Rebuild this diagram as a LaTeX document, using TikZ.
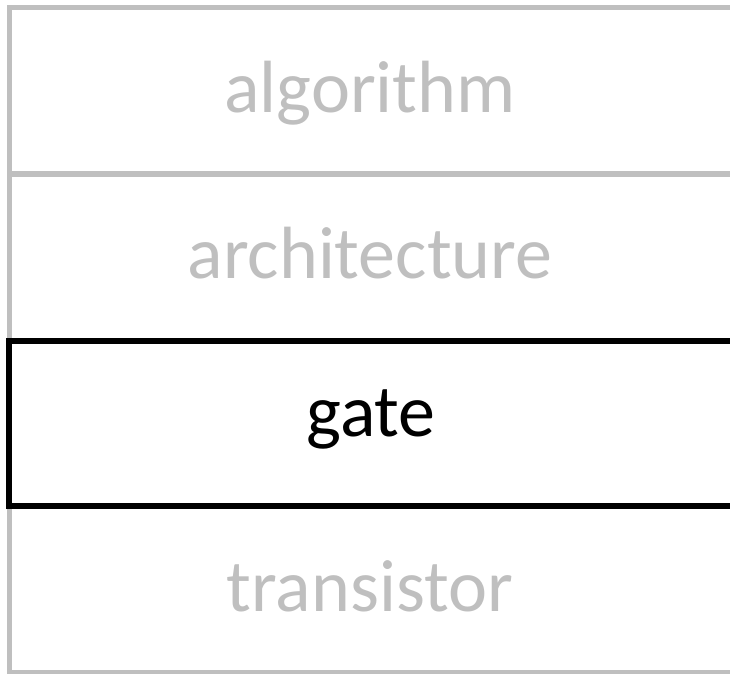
\documentclass[tikz,border=0pt]{standalone}
\usepackage{fontspec}
\setmainfont{Carlito}
\definecolor{layergray}{HTML}{BFBFBF}
\begin{document}
\begin{tikzpicture}[x=1pt,y=-1pt,
  layer/.style={draw=layergray, line width=5pt, rectangle, inner sep=0pt,
    minimum width=726.7pt, minimum height=166pt},
  active/.style={layer, draw=black, line width=6pt, minimum height=165.5pt},
  caption/.style={anchor=base, inner sep=0pt, font=\fontsize{74}{80}\selectfont},
]
\useasboundingbox (0,0) rectangle (730,673);
% stacked abstraction layers
\node[layer] (alg)  at (372.65, 90.85) {};
\node[layer] (arch) at (372.65, 257.1) {};
\node[layer] (tran) at (372.65, 589.5) {};
\node[active] (gate) at (372.65, 423.5) {};
% layer names
\node[caption, text=layergray] (talg)  at (370, 112.5) {algorithm};
\node[caption, text=layergray] (tarch) at (370, 278) {architecture};
\node[caption, text=black]     (tgate) at (371, 436) {gate};
\node[caption, text=layergray] (ttran) at (370, 611) {transistor};
\end{tikzpicture}
\end{document}
